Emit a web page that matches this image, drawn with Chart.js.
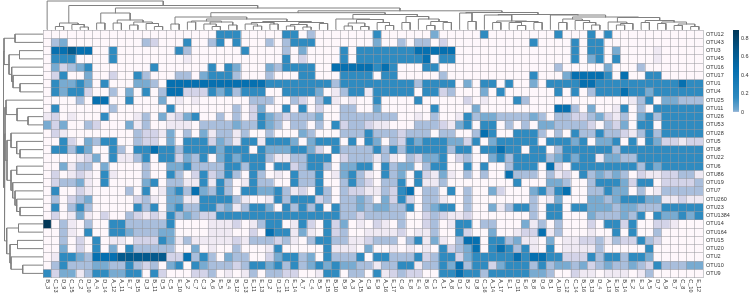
<!DOCTYPE html>
<html><head><meta charset="utf-8">
<style>html,body{margin:0;padding:0;background:#fff;width:749px;height:296px;overflow:hidden}canvas{position:absolute;display:block}</style>
<script src="https://cdn.jsdelivr.net/npm/chart.js@4"></script>
</head><body>
<canvas id="main" width="749" height="296" style="left:0;top:0"></canvas>
<canvas id="treeTop" width="749" height="30" style="left:0;top:0"></canvas>
<canvas id="treeLeft" width="43" height="296" style="left:0;top:0"></canvas>
<canvas id="bar" width="23" height="94" style="left:726px;top:24px"></canvas>
<script>
const colLabels=["B_3","C_13","D_9","C_15","C_2","D_10","A_4","D_14","A_12","A_11","E_7","B_15","D_3","B_11","D_5","C_5","E_10","A_2","C_7","C_3","A_6","E_5","B_4","B_12","D_13","E_11","E_13","D_2","D_12","C_11","E_14","A_7","C_4","B_5","E_15","B_10","B_9","A_3","A_15","C_9","E_9","A_16","E_17","C_6","E_8","E_4","B_6","C_1","A_1","A_8","D_1","B_2","D_8","C_16","A_14","A_17","E_1","D_11","E_6","B_8","D_6","B_1","A_10","C_12","C_14","B_16","B_13","D_4","A_13","E_16","B_14","E_2","E_3","A_5","D_7","A_9","B_7","C_8","C_10","E_12"];
const rowLabels=["OTU12","OTU43","OTU3","OTU45","OTU16","OTU17","OTU1","OTU4","OTU25","OTU11","OTU26","OTU53","OTU28","OTU5","OTU8","OTU22","OTU6","OTU86","OTU19","OTU7","OTU260","OTU23","OTU1384","OTU14","OTU164","OTU15","OTU20","OTU2","OTU10","OTU9"];
// estimated abundance for each shade level
const levelValues=[0,.001,.002,.004,.008,.15,.45,.65,.89];
const stopColors=["#fef7fb","#efe9f3","#d3d3e8","#a9bedc","#78abd1","#2f8bc0","#0670b0","#045a8d","#023858"];
// one row per OTU, shade level per sample
const r01=[0,0,0,0,0,0,0,0,0,0, 0,0,0,0,0,0,0,0,0,0, 0,5,5,5,0,0,0,0,0,5, 5,0,3,0,0,0,0,0,0,0, 5,0,0,0,0,0,0,4,0,0, 0,0,0,5,0,0,0,0,0,0, 0,0,5,0,0,0,5,0,5,0, 0,0,0,0,0,0,0,0,0,0];
const r02=[0,3,4,0,0,0,0,0,0,0, 0,0,3,2,0,0,0,5,0,0, 3,5,0,5,0,0,0,3,0,3, 5,5,5,0,0,0,0,0,0,0, 4,0,0,3,0,3,3,0,2,0, 0,0,0,0,0,0,0,0,0,5, 0,0,0,0,5,0,5,5,0,0, 0,0,0,0,0,0,0,0,0,0];
const r03=[0,6,6,7,6,6,0,0,5,0, 0,0,0,0,0,0,5,3,0,0, 0,0,0,0,5,0,0,0,0,3, 0,4,0,0,0,0,5,0,5,5, 5,5,5,5,5,6,6,6,6,6, 0,0,0,0,0,0,0,0,0,0, 0,0,0,0,5,0,5,5,0,4, 0,0,0,0,1,0,0,0,0,0];
const r04=[0,5,5,5,0,0,0,0,5,0, 0,0,0,0,0,0,0,1,0,0, 0,0,0,0,0,0,0,0,0,5, 0,2,0,0,0,0,5,0,5,5, 5,5,5,5,5,5,6,0,5,5, 0,0,0,0,0,0,0,0,0,0, 0,0,0,0,5,0,4,5,0,5, 0,0,0,0,1,0,0,0,0,0];
const r05=[0,4,2,3,4,5,0,0,0,0, 0,0,0,5,0,0,0,0,0,0, 5,0,5,4,0,0,0,4,3,5, 5,5,5,0,0,6,6,6,6,6, 5,6,5,0,0,0,5,5,0,0, 0,0,0,0,0,0,0,0,0,0, 0,0,3,0,0,0,0,0,4,0, 0,0,3,0,0,0,0,0,0,0];
const r06=[0,2,5,0,0,4,0,0,2,0, 0,5,3,0,0,0,3,3,0,4, 5,5,5,3,0,0,0,3,0,0, 0,5,5,0,0,0,5,5,5,5, 0,5,5,0,0,0,0,0,3,0, 0,0,0,0,0,0,0,0,0,5, 0,0,0,4,6,6,6,6,5,0, 6,0,0,5,5,0,0,0,0,0];
const r07=[0,5,4,4,5,4,0,5,0,0, 0,4,4,3,0,6,6,6,6,6, 6,6,6,6,6,6,6,5,5,5, 5,5,5,5,5,3,5,5,5,5, 5,5,5,5,5,3,5,5,5,5, 0,4,0,5,5,0,5,0,0,4, 0,5,5,5,5,6,6,5,5,5, 5,5,5,5,5,5,5,6,5,5];
const r08=[0,5,4,5,5,2,0,0,3,0, 4,0,5,0,3,6,6,2,2,2, 5,4,5,3,5,5,5,0,0,5, 5,5,5,4,0,1,3,5,5,1, 5,5,5,5,5,0,5,5,2,3, 0,0,0,4,0,5,0,0,0,0, 0,0,5,0,5,0,3,5,5,5, 6,5,5,4,5,5,5,5,5,5];
const r09=[0,0,0,0,3,0,6,6,0,0, 5,0,0,0,4,0,1,0,1,0, 0,0,0,0,0,3,3,3,0,0, 3,2,0,3,5,1,0,1,0,0, 5,0,0,0,0,5,0,0,0,0, 0,2,0,1,0,0,0,5,3,0, 0,0,0,0,0,0,0,0,0,0, 0,1,3,5,0,4,4,3,3,3];
const r10=[0,5,0,0,0,0,0,0,3,0, 0,0,0,0,0,5,0,0,0,0, 0,0,0,3,0,2,4,0,0,5, 0,5,0,2,0,0,3,3,0,0, 4,0,0,0,0,0,0,5,0,0, 0,0,4,0,0,0,0,0,0,0, 0,0,6,6,3,0,4,0,0,1, 5,0,3,0,5,5,5,5,5,5];
const r11=[1,2,0,1,0,0,0,5,0,0, 0,1,3,0,4,1,2,4,5,0, 0,3,0,3,0,2,5,4,3,2, 3,3,3,4,0,0,3,3,3,3, 3,3,3,0,0,1,0,3,0,0, 1,5,3,4,4,3,3,3,3,4, 3,0,3,3,2,2,3,4,2,1, 3,0,4,5,3,5,5,5,5,5];
const r12=[4,2,4,0,0,3,2,0,0,0, 4,1,3,0,0,1,1,1,0,3, 3,3,3,4,3,3,5,4,3,0, 3,3,0,3,0,5,2,3,3,2, 1,1,0,0,0,3,3,3,2,1, 4,5,0,5,5,0,3,0,3,0, 4,4,3,3,3,3,2,0,3,2, 4,0,5,5,0,5,5,5,5,5];
const r13=[0,2,1,0,0,0,0,0,0,0, 0,3,2,2,1,4,0,3,0,4, 1,3,3,1,3,0,0,3,0,0, 0,4,3,0,0,0,3,3,3,5, 3,3,3,2,3,3,3,0,3,3, 0,0,3,6,5,0,0,5,5,5, 3,0,3,0,5,3,3,5,3,3, 2,1,3,5,3,5,5,5,5,5];
const r14=[0,0,5,2,0,4,3,5,5,0, 0,3,2,2,0,4,0,5,5,5, 2,4,3,1,5,5,1,5,5,5, 4,0,4,5,5,5,0,5,0,5, 4,0,3,2,5,4,5,5,5,4, 4,2,5,0,4,5,5,5,5,5, 0,5,5,5,4,5,0,4,4,5, 0,5,0,5,4,2,2,1,2,2];
const r15=[0,5,5,3,5,4,0,0,5,3, 0,5,5,6,5,5,3,5,5,5, 5,4,5,5,5,0,5,4,4,4, 5,5,4,2,0,5,3,3,3,3, 5,3,5,3,5,5,5,5,5,3, 5,5,0,5,5,6,5,5,0,5, 5,0,3,5,5,5,5,5,5,3, 5,5,5,5,5,5,5,5,5,5];
const r16=[0,0,0,0,1,2,4,0,5,1, 1,3,5,0,5,5,2,4,3,5, 0,4,5,4,5,5,5,3,1,1, 3,3,5,5,5,0,2,3,3,3, 1,3,1,0,3,2,4,4,5,0, 2,3,0,0,4,5,3,5,5,5, 5,3,4,5,4,5,5,1,4,4, 3,3,5,5,5,5,5,5,5,5];
const r17=[0,0,4,1,3,3,0,4,0,0, 0,0,3,0,0,4,4,5,3,3, 3,3,5,5,3,5,5,0,5,5, 2,3,5,5,3,0,4,4,5,5, 0,5,3,4,4,0,3,5,5,0, 0,5,0,5,0,0,3,5,5,5, 0,6,2,0,5,5,5,5,5,5, 5,5,3,5,4,5,5,5,5,5];
const r18=[0,2,0,1,2,1,0,5,1,0, 0,0,3,0,0,5,3,0,2,5, 2,3,5,3,0,5,3,0,1,0, 5,3,3,5,0,1,4,5,3,1, 0,5,3,4,0,5,2,1,4,1, 0,3,0,3,0,0,6,3,3,3, 0,3,1,2,0,5,3,4,3,4, 3,0,2,1,1,2,2,3,3,1];
const r19=[0,2,3,3,4,1,0,5,0,0, 0,0,4,5,0,3,3,1,1,5, 1,5,3,0,1,5,3,3,0,0, 5,3,3,5,0,0,3,5,3,2, 0,3,3,5,0,5,1,1,3,0, 0,0,0,0,0,0,0,5,0,0, 0,4,4,3,0,0,3,5,5,5, 4,2,5,5,0,2,2,2,2,3];
const r20=[0,5,0,0,2,1,0,0,0,0, 3,0,5,0,1,4,5,3,6,4, 3,5,3,0,5,5,4,4,5,3, 1,2,0,5,3,0,3,2,2,1, 1,3,2,5,6,0,3,3,0,5, 0,3,0,0,4,2,0,0,0,4, 5,3,5,6,0,0,3,3,5,4, 4,0,3,0,1,3,3,3,3,3];
const r21=[0,3,0,2,3,4,0,0,0,0, 0,2,3,1,0,4,4,1,1,5, 5,5,5,3,1,0,0,1,5,3, 5,5,5,2,3,0,3,3,4,3, 0,4,2,5,2,0,3,3,1,0, 0,3,0,0,0,0,0,0,0,3, 0,1,4,0,0,0,4,4,3,4, 5,5,5,4,4,1,1,2,1,1];
const r22=[0,5,0,3,5,3,0,0,0,0, 0,5,3,5,0,4,5,3,3,5, 5,3,4,1,3,5,5,4,0,5, 3,5,3,5,0,5,3,3,4,3, 4,4,3,3,5,0,3,4,5,5, 0,3,0,0,4,1,3,5,5,3, 0,5,5,0,5,5,4,4,4,3, 4,4,3,3,3,5,5,5,5,5];
const r23=[0,2,0,1,4,1,0,2,0,0, 3,2,1,2,1,5,3,4,3,2, 2,5,5,5,5,5,5,5,5,5, 5,5,5,5,5,5,3,3,2,3, 3,3,3,3,0,0,2,3,2,1, 1,2,0,0,0,0,0,0,0,3, 0,5,5,0,0,0,4,3,3,3, 4,3,5,0,5,4,4,5,4,5];
const r24=[8,0,3,1,0,3,0,0,5,5, 3,3,3,3,3,5,0,0,0,0, 1,1,1,2,0,1,3,5,5,0, 1,5,2,0,5,2,4,0,1,0, 2,1,0,3,0,0,2,3,0,1, 5,5,0,3,3,0,0,0,4,1, 3,0,3,0,0,0,2,0,5,5, 2,5,0,0,2,2,1,0,0,0];
const r25=[0,0,3,1,0,5,0,0,5,5, 4,3,3,3,4,4,0,0,0,0, 1,1,1,0,0,2,0,6,5,5, 1,4,1,0,5,2,3,0,0,1, 1,1,1,2,0,1,1,3,0,0, 5,2,0,0,4,0,0,1,2,2, 6,1,3,0,0,0,1,0,0,5, 0,5,0,0,3,0,0,0,0,0];
const r26=[0,0,3,0,2,0,5,0,1,1, 0,2,2,2,5,4,1,3,1,1, 1,1,1,2,1,3,3,3,2,3, 1,0,3,5,5,3,3,1,1,2, 3,3,3,0,3,5,1,4,1,0, 3,6,6,0,5,5,3,4,1,1, 0,4,0,1,1,2,2,3,1,3, 2,2,5,3,2,0,0,0,0,0];
const r27=[0,0,4,0,2,0,5,0,4,0, 5,3,3,3,3,3,0,0,4,0, 1,0,0,3,0,0,0,1,5,0, 0,0,0,0,5,1,1,1,0,4, 0,0,1,0,1,0,1,0,5,2, 3,4,6,0,5,6,5,3,5,1, 0,5,0,1,1,1,1,3,0,0, 0,0,0,5,0,0,0,0,0,0];
const r28=[0,1,5,5,4,3,6,6,6,7, 7,7,7,7,7,2,2,6,3,5, 3,0,4,3,3,0,0,2,4,5, 5,3,4,0,5,3,3,3,5,0, 5,5,3,3,3,5,2,3,5,5, 2,4,5,5,5,5,5,6,5,6, 6,5,5,2,2,2,5,3,5,5, 3,5,5,4,0,0,0,0,0,0];
const r29=[0,3,5,3,3,3,4,4,3,3, 5,3,2,3,0,4,5,0,5,4, 3,3,3,2,3,5,5,4,5,3, 5,3,4,5,4,5,4,4,3,3, 1,3,3,5,5,1,3,3,5,4, 6,3,5,5,2,4,5,5,5,3, 5,3,4,4,3,4,2,3,4,3, 3,4,3,2,5,3,3,3,4,4];
const r30=[5,2,4,4,1,3,5,5,4,4, 5,5,0,5,2,0,0,0,2,2, 3,0,1,0,1,3,0,3,3,2, 2,0,0,1,5,5,0,3,3,0, 5,1,2,3,2,2,0,0,5,5, 6,5,5,3,5,5,5,5,5,4, 4,3,0,0,2,1,1,0,1,1, 1,0,1,3,0,0,0,0,0,0];
const rowLevels=[r01,r02,r03,r04,r05,r06,r07,r08,r09,r10,r11,r12,r13,r14,r15,r16,r17,r18,r19,r20,r21,r22,r23,r24,r25,r26,r27,r28,r29,r30];

// clustering trees: [merge height, left, right]; 0 is a leaf, leaves run in axis order
const cE=[6.5,[3,0,0],[5,0,[2.5,0,0]]];
const cC1=[16.5,[6.5,0,0],[9.5,[6.5,0,0],[7.5,[4.5,0,0],[6,0,[3,0,0]]]]];
const cS1=[8.5,[7.5,0,0],[7.5,[5.5,0,[3,0,0]],[4.5,0,0]]];
const cS2=[8,[7,[5.5,0,[3.5,0,0]],[5.5,0,0]],[7,[5,[3.5,0,0],[2.5,0,0]],[6,0,0]]];
const cP=[12.5,[5.5,0,0],[10.5,cS1,cS2]];
const cLx=[10.5,0,[10,[6.5,[3.5,0,0],[3,0,0]],[7,0,[4,0,0]]]];
const cRx=[13,[7,0,0],[10.5,0,[8,[4,0,0],[7,0,0]]]];
const cQ=[16.8,cP,[15,cLx,cRx]];
const cFa=[16.5,0,[8,0,0]];
const cGa=[14.5,0,[8.5,[7,0,0],[8,[7,0,[4,0,0]],[7,0,0]]]];
const cH1=[10.5,[7,0,0],[9,0,[7,0,[4.5,0,0]]]];
const cH2=[12,[7.5,0,[6,[4.5,0,0],0]],[9,[7,0,0],[7.5,[6,0,0],[5.5,[4,0,0],[3,0,0]]]]];
const cG=[15,cGa,[14.5,0,[12.5,cH1,cH2]]];
const colTree=[28.5,0,[24,cE,[21.5,cC1,[18.7,cQ,[17,cFa,cG]]]]];
const rT1=[39,[28,0,0],[34,[23.5,0,0],[31.3,0,[30,0,[23,0,0]]]]];
const rC2=[37,0,[26,0,[15,0,0]]];
const rC3a=[32,0,[26.3,0,[23,0,0]]];
const rC3b=[32,[26.3,0,0],[30.3,0,[28,0,[26.3,0,[23,0,0]]]]];
const rC4=[36.3,[24.5,0,0],[33,[25.5,0,0],[32,0,[20.3,0,0]]]];
const rowTree=[39.5,rT1,[38.5,[38,rC2,[36,rC3a,rC3b]],rC4]];

const colorbarMax=.89, colorbarBands=82;
const colorbarTicks=[0,.2,.4,.6,.8];

function hex(c){return [1,3,5].map(i=>parseInt(c.substr(i,2),16));}
function colorFor(v){
  for(let i=1;i<levelValues.length;i++){
    if(v<=levelValues[i]){
      const t=(v-levelValues[i-1])/(levelValues[i]-levelValues[i-1]);
      const a=hex(stopColors[i-1]),b=hex(stopColors[i]);
      return 'rgb('+a.map((x,k)=>Math.round(x+(b[k]-x)*t)).join(',')+')';
    }
  }
  return stopColors[stopColors.length-1];
}
function treeSegments(tree){
  let leaf=0;const pts=[];
  (function walk(n){
    if(n===0){return {p:(leaf++)+.5,h:0};}
    const a=walk(n[1]),b=walk(n[2]);
    pts.push({p:a.p,h:a.h},{p:a.p,h:n[0]},{p:b.p,h:n[0]},{p:b.p,h:b.h},{p:NaN,h:NaN});
    return {p:(a.p+b.p)/2,h:n[0]};
  })(tree);
  return pts;
}
const font={family:"'Liberation Sans',Arial,sans-serif",size:5.5};
Chart.defaults.animation=false;
Chart.defaults.font.family=font.family;
const quiet={legend:{display:false},tooltip:{enabled:false}};
const lineStyle={showLine:true,pointRadius:0,borderColor:'#808080',borderWidth:1,tension:0,clip:false,spanGaps:false,borderCapStyle:'square'};
const gridColor='rgba(150,150,155,.5)';

const colLabelPlugin={id:'colLabels',afterDraw(c){
  const s=c.scales.x,ctx=c.ctx;ctx.save();
  ctx.font=font.size+'px '+font.family;ctx.fillStyle='#333';ctx.textAlign='left';ctx.textBaseline='middle';
  colLabels.forEach((t,i)=>{ctx.save();ctx.translate(s.getPixelForValue(i),c.chartArea.bottom+1.8);ctx.rotate(Math.PI/2);ctx.fillText(t,0,0);ctx.restore();});
  ctx.restore();
}};
new Chart(document.getElementById('main'),{
  type:'bar',
  data:{labels:colLabels,datasets:rowLevels.map((lv,r)=>({
    label:rowLabels[r],data:lv.map(()=>1),
    backgroundColor:lv.map(l=>colorFor(levelValues[l])),
    barPercentage:1,categoryPercentage:1,borderWidth:0,xAxisID:'x',yAxisID:'y'
  }))},
  options:{responsive:false,animation:false,
    layout:{padding:{left:43,top:30,right:0,bottom:18.5}},
    plugins:quiet,
    scales:{
      x:{type:'category',stacked:true,offset:true,position:'bottom',
        ticks:{display:false},border:{display:false},
        grid:{offset:true,z:1,color:gridColor,lineWidth:1,drawTicks:false},
        afterFit(s){s.height=0;}},
      y:{type:'linear',stacked:true,reverse:true,min:0,max:30,position:'left',
        ticks:{display:false,stepSize:1},border:{display:false},
        grid:{z:1,color:gridColor,lineWidth:1,drawTicks:false},
        afterFit(s){s.width=0;}},
      yr:{type:'category',labels:rowLabels,offset:true,position:'right',
        ticks:{autoSkip:false,padding:3,font:font,color:'#333'},
        grid:{display:false,drawTicks:false},border:{display:false},
        afterFit(s){s.width=46;}}
    }},
  plugins:[colLabelPlugin]
});
new Chart(document.getElementById('treeTop'),{
  type:'scatter',
  data:{datasets:[Object.assign({data:treeSegments(colTree).map(q=>({x:q.p,y:q.h}))},lineStyle)]},
  options:{responsive:false,animation:false,layout:{padding:{left:43,right:46,top:0,bottom:.5}},plugins:quiet,
    scales:{x:{type:'linear',min:0,max:80,display:false},y:{type:'linear',min:0,max:29.5,display:false}}}
});
new Chart(document.getElementById('treeLeft'),{
  type:'scatter',
  data:{datasets:[Object.assign({data:treeSegments(rowTree).map(q=>({x:q.h,y:q.p}))},lineStyle)]},
  options:{responsive:false,animation:false,layout:{padding:{left:0,right:0,top:30,bottom:18.5}},plugins:quiet,
    scales:{x:{type:'linear',min:0,max:43,reverse:true,display:false},y:{type:'linear',min:0,max:30,reverse:true,display:false}}}
});
const bandSize=colorbarMax/colorbarBands;
new Chart(document.getElementById('bar'),{
  type:'bar',
  data:{labels:[''],datasets:Array.from({length:colorbarBands},(_,i)=>({
    data:[bandSize],backgroundColor:colorFor((i+.5)*bandSize),barPercentage:1,categoryPercentage:1,borderWidth:0}))},
  options:{responsive:false,animation:false,layout:{padding:{left:7,top:6,bottom:6,right:0}},plugins:quiet,
    scales:{
      x:{stacked:true,display:false},
      y:{stacked:true,position:'right',min:0,max:colorbarMax,
        afterBuildTicks(s){s.ticks=colorbarTicks.map(v=>({value:v}));},
        ticks:{padding:2,font:font,color:'#333',callback:v=>String(v)},
        grid:{display:false,drawTicks:false},border:{display:false},
        afterFit(s){s.width=10;}}
    }}
});
</script>
</body></html>
